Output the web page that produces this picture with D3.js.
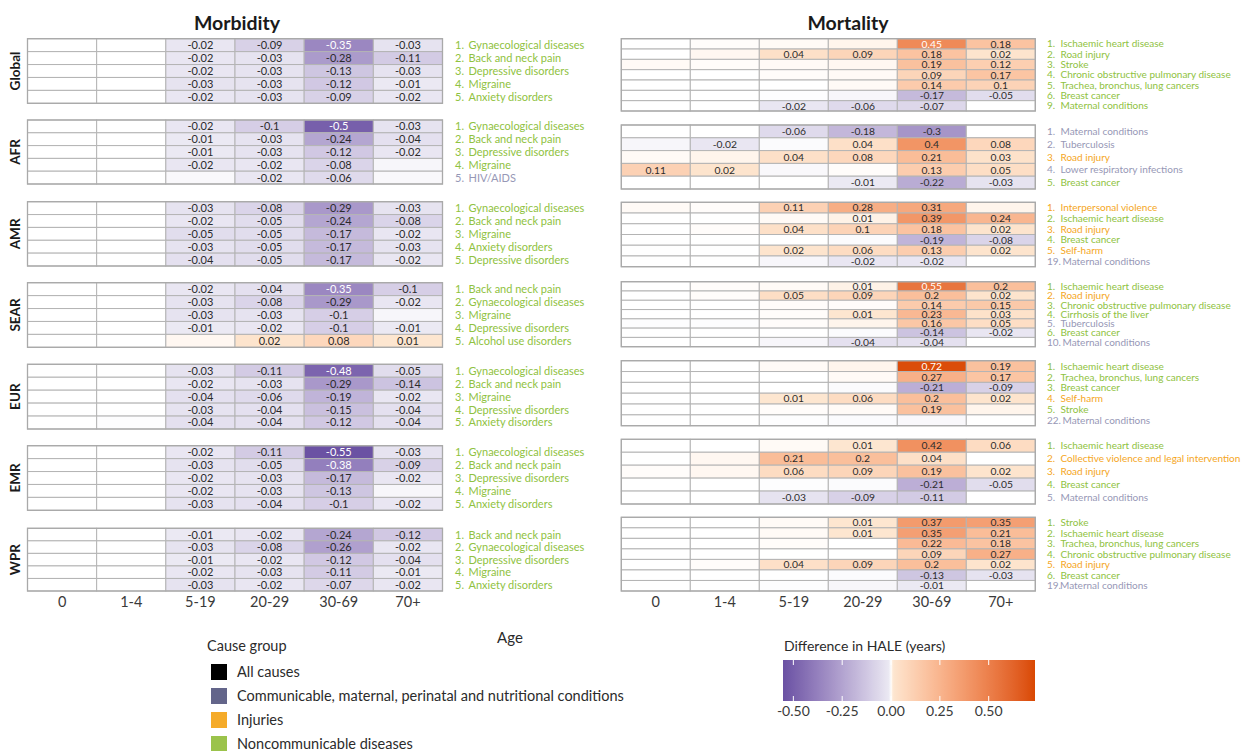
<!DOCTYPE html>
<html>
<head>
<meta charset="utf-8">
<script src="https://cdn.jsdelivr.net/npm/d3@7"></script>
<style>
  body { margin: 0; background: #fff; }
  svg text { font-family: Lato, "Noto Sans", "DejaVu Sans", sans-serif; }
</style>
</head>
<body>
<svg id="chart" width="1248" height="751"></svg>
<script>
// ---- Data ---------------------------------------------------------------
const ageGroups = ["0", "1-4", "5-19", "20-29", "30-69", "70+"];
const regions = ["Global", "AFR", "AMR", "SEAR", "EUR", "EMR", "WPR"];

// Cause group codes: C = communicable etc., I = injuries, N = noncommunicable
const causeGroupNames = ["All causes", "Communicable, maternal, perinatal and nutritional conditions", "Injuries", "Noncommunicable diseases"];
const causeGroupCodes = ["A", "C", "I", "N"];

// Each row: [cause label, group, value for each age group]
const morbGlobal = [
  ["1. Gynaecological diseases", "N", 0, 0, -0.02, -0.09, -0.35, -0.03],
  ["2. Back and neck pain", "N", 0, 0, -0.02, -0.03, -0.28, -0.11],
  ["3. Depressive disorders", "N", 0, 0, -0.02, -0.03, -0.13, -0.03],
  ["4. Migraine", "N", 0, 0, -0.03, -0.03, -0.12, -0.01],
  ["5. Anxiety disorders", "N", 0, 0, -0.02, -0.03, -0.09, -0.02]
];
const morbAFR = [
  ["1. Gynaecological diseases", "N", 0, 0, -0.02, -0.1, -0.5, -0.03],
  ["2. Back and neck pain", "N", 0, 0, -0.01, -0.03, -0.24, -0.04],
  ["3. Depressive disorders", "N", 0, 0, -0.01, -0.03, -0.12, -0.02],
  ["4. Migraine", "N", 0, 0, -0.02, -0.02, -0.08, -0.004],
  ["5. HIV/AIDS", "C", 0, 0, -0.003, -0.02, -0.06, -0.003]
];
const morbAMR = [
  ["1. Gynaecological diseases", "N", 0, 0, -0.03, -0.08, -0.29, -0.03],
  ["2. Back and neck pain", "N", 0, 0, -0.02, -0.05, -0.24, -0.08],
  ["3. Migraine", "N", 0, 0, -0.05, -0.05, -0.17, -0.02],
  ["4. Anxiety disorders", "N", 0, 0, -0.03, -0.05, -0.17, -0.03],
  ["5. Depressive disorders", "N", 0, 0, -0.04, -0.05, -0.17, -0.02]
];
const morbSEAR = [
  ["1. Back and neck pain", "N", 0, 0, -0.02, -0.04, -0.35, -0.1],
  ["2. Gynaecological diseases", "N", 0, 0, -0.03, -0.08, -0.29, -0.02],
  ["3. Migraine", "N", 0, 0, -0.03, -0.03, -0.1, -0.004],
  ["4. Depressive disorders", "N", 0, 0, -0.01, -0.02, -0.1, -0.01],
  ["5. Alcohol use disorders", "N", 0, 0, 0.003, 0.02, 0.08, 0.01]
];
const morbEUR = [
  ["1. Gynaecological diseases", "N", 0, 0, -0.03, -0.11, -0.48, -0.05],
  ["2. Back and neck pain", "N", 0, 0, -0.02, -0.03, -0.29, -0.14],
  ["3. Migraine", "N", 0, 0, -0.04, -0.06, -0.19, -0.02],
  ["4. Depressive disorders", "N", 0, 0, -0.03, -0.04, -0.15, -0.04],
  ["5. Anxiety disorders", "N", 0, -0.001, -0.04, -0.04, -0.12, -0.04]
];
const morbEMR = [
  ["1. Gynaecological diseases", "N", 0, 0, -0.02, -0.11, -0.55, -0.03],
  ["2. Back and neck pain", "N", 0, 0, -0.03, -0.05, -0.38, -0.09],
  ["3. Depressive disorders", "N", 0, 0, -0.02, -0.03, -0.17, -0.02],
  ["4. Migraine", "N", 0, 0, -0.02, -0.03, -0.13, -0.004],
  ["5. Anxiety disorders", "N", 0, 0, -0.03, -0.04, -0.1, -0.02]
];
const morbWPR = [
  ["1. Back and neck pain", "N", 0, 0, -0.01, -0.02, -0.24, -0.12],
  ["2. Gynaecological diseases", "N", 0, 0, -0.03, -0.08, -0.26, -0.02],
  ["3. Depressive disorders", "N", 0, 0, -0.01, -0.02, -0.12, -0.04],
  ["4. Migraine", "N", 0, 0, -0.02, -0.03, -0.11, -0.01],
  ["5. Anxiety disorders", "N", 0, 0, -0.03, -0.02, -0.07, -0.02]
];

const mortGlobal = [
  ["1. Ischaemic heart disease", "N", 0, 0.001, 0.002, 0.004, 0.45, 0.18],
  ["2. Road injury", "N", 0, 0.003, 0.04, 0.09, 0.18, 0.02],
  ["3. Stroke", "N", 0.002, 0.001, 0.002, 0.003, 0.19, 0.12],
  ["4. Chronic obstructive pulmonary disease", "N", 0, 0, 0.001, 0.002, 0.09, 0.17],
  ["5. Trachea, bronchus, lung cancers", "N", 0, 0, 0, 0.002, 0.14, 0.1],
  ["6. Breast cancer", "N", 0, 0, -0.001, -0.004, -0.17, -0.05],
  ["9. Maternal conditions", "N", 0, 0, -0.02, -0.06, -0.07, 0]
];
const mortAFR = [
  ["1. Maternal conditions", "C", 0, 0, -0.06, -0.18, -0.3, 0],
  ["2. Tuberculosis", "C", -0.004, -0.02, -0.002, 0.04, 0.4, 0.08],
  ["3. Road injury", "I", 0.002, 0.004, 0.04, 0.08, 0.21, 0.03],
  ["4. Lower respiratory infections", "C", 0.11, 0.02, -0.003, 0.001, 0.13, 0.05],
  ["5. Breast cancer", "N", 0, 0, 0, -0.01, -0.22, -0.03]
];
const mortAMR = [
  ["1. Interpersonal violence", "I", 0.002, 0.001, 0.11, 0.28, 0.31, 0.004],
  ["2. Ischaemic heart disease", "N", 0, 0, 0.002, 0.005, 0.39, 0.24],
  ["3. Road injury", "I", 0, 0.001, 0.04, 0.1, 0.18, 0.02],
  ["4. Breast cancer", "N", 0, 0, 0, -0.002, -0.19, -0.08],
  ["5. Self-harm", "I", 0, 0, 0.02, 0.06, 0.13, 0.02],
  ["19. Maternal conditions", "C", 0, 0, -0.004, -0.02, -0.02, 0]
];
const mortSEAR = [
  ["1. Ischaemic heart disease", "N", 0, 0.001, 0.002, 0.005, 0.55, 0.2],
  ["2. Road injury", "I", 0, 0.001, 0.05, 0.09, 0.2, 0.02],
  ["3. Chronic obstructive pulmonary disease", "N", 0, 0, 0.001, 0.001, 0.14, 0.15],
  ["4. Cirrhosis of the liver", "N", 0, 0, 0.001, 0.01, 0.23, 0.03],
  ["5. Tuberculosis", "C", -0.001, -0.001, 0.001, 0.004, 0.16, 0.05],
  ["6. Breast cancer", "N", 0, 0, 0, -0.002, -0.14, -0.02],
  ["10. Maternal conditions", "C", 0, 0, -0.004, -0.04, -0.04, 0]
];
const mortEUR = [
  ["1. Ischaemic heart disease", "N", 0, 0, 0.002, 0.004, 0.72, 0.19],
  ["2. Trachea, bronchus, lung cancers", "N", 0, 0, 0, 0.002, 0.27, 0.17],
  ["3. Breast cancer", "N", 0, 0, 0, -0.002, -0.21, -0.09],
  ["4. Self-harm", "I", 0, 0, 0.01, 0.06, 0.2, 0.02],
  ["5. Stroke", "N", 0, 0, 0.001, 0.002, 0.19, 0.004],
  ["22. Maternal conditions", "C", 0, 0, -0.001, -0.002, -0.003, 0]
];
const mortEMR = [
  ["1. Ischaemic heart disease", "N", 0, 0, 0.002, 0.01, 0.42, 0.06],
  ["2. Collective violence and legal intervention", "I", 0, 0.003, 0.21, 0.2, 0.04, 0],
  ["3. Road injury", "I", 0.001, 0.003, 0.06, 0.09, 0.19, 0.02],
  ["4. Breast cancer", "N", 0, 0, -0.001, -0.002, -0.21, -0.05],
  ["5. Maternal conditions", "C", 0, 0, -0.03, -0.09, -0.11, 0]
];
const mortWPR = [
  ["1. Stroke", "N", 0, 0, 0.002, 0.01, 0.37, 0.35],
  ["2. Ischaemic heart disease", "N", 0, 0, 0.002, 0.01, 0.35, 0.21],
  ["3. Trachea, bronchus, lung cancers", "N", 0, 0, 0.001, 0, 0.22, 0.18],
  ["4. Chronic obstructive pulmonary disease", "N", 0, 0, 0, 0, 0.09, 0.27],
  ["5. Road injury", "I", 0, 0.001, 0.04, 0.09, 0.2, 0.02],
  ["6. Breast cancer", "N", 0, 0, 0, -0.002, -0.13, -0.03],
  ["19.Maternal conditions", "C", 0, 0, -0.001, -0.004, -0.01, 0]
];

const legendTicks = [-0.5, -0.25, 0, 0.25, 0.5];
const legendLimits = [-0.553, 0.737];

// ---- Styling and layout -----------------------------------------------------
const swatchColors = { A: "#000000", C: "#63658a", I: "#f5ab29", N: "#9bc34b" };
const labelColors = { A: "#000000", C: "#9798b6", I: "#f5a623", N: "#8fc241" };

const fill = d3.scaleLinear()
  .domain([legendLimits[0], -0.01, 0, 0.01, legendLimits[1]])
  .range(["#6a51a3", "#ebe9f3", "#ffffff", "#fde6d0", "#d94801"])
  .interpolate(d3.interpolateLab)
  .clamp(true);

const morbidityLayout = {
  title: "Morbidity", titleX: 237,
  x0: 27.5, x1: 442.5, labelX: 455, labelSize: 11, valueSize: 11,
  blocks: [[38.7, 103.3], [120, 184], [201.7, 266], [282.7, 347.3], [364.3, 429], [445.7, 510.3], [528.3, 591]],
  rows: [morbGlobal, morbAFR, morbAMR, morbSEAR, morbEUR, morbEMR, morbWPR],
  regionLabels: true
};
const mortalityLayout = {
  title: "Mortality", titleX: 848,
  x0: 621.3, x1: 1035.3, labelX: 1047, labelSize: 10, valueSize: 10.3,
  blocks: [[38.7, 111], [125, 189], [202.3, 266.7], [281.7, 346.7], [360.7, 425.7], [439.3, 504], [517.3, 591]],
  rows: [mortGlobal, mortAFR, mortAMR, mortSEAR, mortEUR, mortEMR, mortWPR],
  regionLabels: false
};

const svg = d3.select("#chart");
const fmtValue = v => {
  const r = Math.round(v * 100) / 100;
  if (r === 0) return "";
  return String(r).replace("\u2212", "-");
};

function drawPanel(p) {
  const g = svg.append("g");
  const x = d3.scaleBand().domain(ageGroups).range([p.x0, p.x1]);

  g.append("text")
    .attr("x", p.titleX).attr("y", 30)
    .attr("text-anchor", "middle")
    .attr("font-size", 19.5).attr("font-weight", 700).attr("fill", "#1a1a1a")
    .text(p.title);

  p.rows.forEach((rows, i) => {
    const [top, bottom] = p.blocks[i];
    const y = d3.scaleBand().domain(rows.map(r => r[0])).range([top, bottom]);
    const block = g.append("g");

    const cells = [];
    rows.forEach(r => ageGroups.forEach((a, j) => cells.push({ cause: r[0], age: a, v: r[2 + j] })));

    block.selectAll("rect.cell").data(cells).join("rect")
      .attr("class", "cell")
      .attr("x", d => x(d.age)).attr("y", d => y(d.cause))
      .attr("width", x.bandwidth()).attr("height", y.bandwidth())
      .attr("fill", d => fill(d.v))
      .attr("stroke", "#b4b4b4").attr("stroke-width", 1);

    block.append("rect")
      .attr("x", p.x0).attr("y", top)
      .attr("width", p.x1 - p.x0).attr("height", bottom - top)
      .attr("fill", "none").attr("stroke", "#a9a9a9").attr("stroke-width", 1.3);

    block.selectAll("text.val").data(cells.filter(d => fmtValue(d.v) !== "")).join("text")
      .attr("class", "val")
      .attr("x", d => x(d.age) + x.bandwidth() / 2)
      .attr("y", d => y(d.cause) + y.bandwidth() / 2)
      .attr("dy", "0.36em")
      .attr("text-anchor", "middle")
      .attr("font-size", p.valueSize)
      .attr("fill", d => (d.v <= -0.33 || d.v >= 0.44) ? "#ffffff" : "#2b2b2b")
      .text(d => fmtValue(d.v));

    const labels = block.selectAll("text.cause").data(rows).join("text")
      .attr("class", "cause")
      .attr("x", p.labelX)
      .attr("y", r => y(r[0]) + y.bandwidth() / 2)
      .attr("dy", "0.36em")
      .attr("font-size", p.labelSize)
      .attr("fill", r => labelColors[r[1]]);
    labels.each(function (r) {
      const m = r[0].match(/^(\d+\.)(\s*)(.*)$/);
      const t = d3.select(this);
      t.append("tspan").text(m[1]);
      const off = m[2].length === 0 ? 13 : (m[1].length > 2 ? 15.5 : 13.5);
      t.append("tspan").attr("x", p.labelX + off).text(m[3]);
    });

    if (p.regionLabels) {
      g.append("text")
        .attr("transform", `translate(20,${(top + bottom) / 2}) rotate(-90)`)
        .attr("text-anchor", "middle")
        .attr("font-size", 13.5).attr("font-weight", 700).attr("fill", "#1a1a1a")
        .text(regions[i]);
    }
  });

  const axis = g.append("g")
    .attr("transform", "translate(0,591)")
    .call(d3.axisBottom(x).tickSize(0).tickPadding(6));
  axis.select(".domain").remove();
  axis.selectAll("text")
    .attr("font-size", 14.5).attr("fill", "#3a3a3a")
    .style("font-family", "Lato, 'Noto Sans', sans-serif");
}

drawPanel(morbidityLayout);
drawPanel(mortalityLayout);

// Shared axis title
svg.append("text")
  .attr("x", 510).attr("y", 643)
  .attr("text-anchor", "middle")
  .attr("font-size", 15).attr("fill", "#2b2b2b")
  .text("Age");

// ---- Cause group legend -------------------------------------------------------
const lg = svg.append("g");
lg.append("text").attr("x", 207).attr("y", 651)
  .attr("font-size", 14.5).attr("fill", "#2b2b2b").text("Cause group");
const items = lg.selectAll("g.item").data(causeGroupNames).join("g")
  .attr("class", "item")
  .attr("transform", (d, i) => `translate(211,${664 + i * 24})`);
items.append("rect").attr("width", 16).attr("height", 16)
  .attr("fill", (d, i) => swatchColors[causeGroupCodes[i]]);
items.append("text").attr("x", 26).attr("y", 8).attr("dy", "0.36em")
  .attr("font-size", 14.5).attr("fill", "#2b2b2b").text(d => d);

// ---- Colour bar --------------------------------------------------------------
const cb = svg.append("g");
const cbX = d3.scaleLinear().domain(legendLimits).range([783, 1035]);
const cbTop = 660, cbH = 41;
const grad = svg.append("defs").append("linearGradient")
  .attr("id", "haleGrad").attr("x1", "0%").attr("x2", "100%");
d3.range(0, 1.0001, 0.005).forEach(t => {
  const v = legendLimits[0] + t * (legendLimits[1] - legendLimits[0]);
  grad.append("stop").attr("offset", `${t * 100}%`).attr("stop-color", fill(v));
});
cb.append("text").attr("x", 784).attr("y", 651)
  .attr("font-size", 14).attr("fill", "#2b2b2b").text("Difference in HALE (years)");
cb.append("rect").attr("x", cbX(legendLimits[0])).attr("y", cbTop)
  .attr("width", cbX(legendLimits[1]) - cbX(legendLimits[0])).attr("height", cbH)
  .attr("fill", "url(#haleGrad)");
legendTicks.forEach(t => {
  cb.append("line").attr("x1", cbX(t)).attr("x2", cbX(t)).attr("y1", cbTop).attr("y2", cbTop + 5)
    .attr("stroke", "#ffffff").attr("stroke-width", 1);
  cb.append("line").attr("x1", cbX(t)).attr("x2", cbX(t)).attr("y1", cbTop + cbH - 5).attr("y2", cbTop + cbH)
    .attr("stroke", "#ffffff").attr("stroke-width", 1);
  cb.append("text").attr("x", cbX(t)).attr("y", 716)
    .attr("text-anchor", "middle").attr("font-size", 14).attr("fill", "#3a3a3a")
    .text(t.toFixed(2));
});
</script>
</body>
</html>
